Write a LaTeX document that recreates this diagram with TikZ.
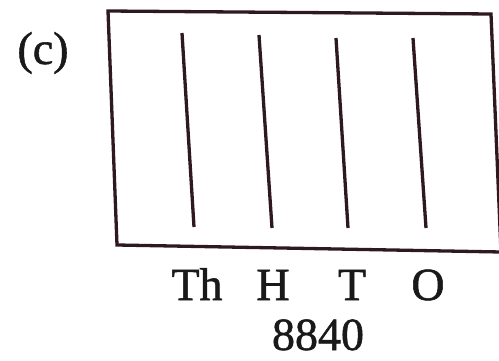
\documentclass[tikz,border=0pt]{standalone}
\usepackage{fontspec}
\setmainfont{Liberation Serif}
\newfontfamily\heavy{Liberation Serif}[FakeBold=1.2]
\definecolor{ink}{rgb}{0.18,0.1,0.12}
\begin{document}
\begin{tikzpicture}[x=1pt,y=-1pt,
  frame/.style={draw=ink,line width=3.3pt,line join=miter},
  rod/.style={draw=ink,line width=3.3pt},
  lbl/.style={font=\heavy\fontsize{46}{50}\selectfont,text=black!90,inner sep=0pt,anchor=base}]
\useasboundingbox (0,0) rectangle (499,361);
\begin{scope}
\clip (0,0) rectangle (499,361);
\draw[frame] (108,11) -- (491,14) -- (501,252) -- (117,245) -- cycle;
\end{scope}
\coordinate (t1) at (182,33);  \coordinate (b1) at (194,227);
\coordinate (t2) at (259,35);  \coordinate (b2) at (272,228);
\coordinate (t3) at (336,38);  \coordinate (b3) at (348,228);
\coordinate (t4) at (413,38);  \coordinate (b4) at (426,228);
\draw[rod] (t1) -- (b1);
\draw[rod] (t2) -- (b2);
\draw[rod] (t3) -- (b3);
\draw[rod] (t4) -- (b4);
\node[lbl] (c) at (43,64) {(c)};
\node[lbl] (th) at (197,300) {Th};
\node[lbl] (h) at (273,300) {H};
\node[lbl] (t) at (352,300) {T};
\node[lbl] (o) at (428,300) {O};
\node[lbl,text depth=0pt] (n) at (318,350) {8840};
\end{tikzpicture}
\end{document}
